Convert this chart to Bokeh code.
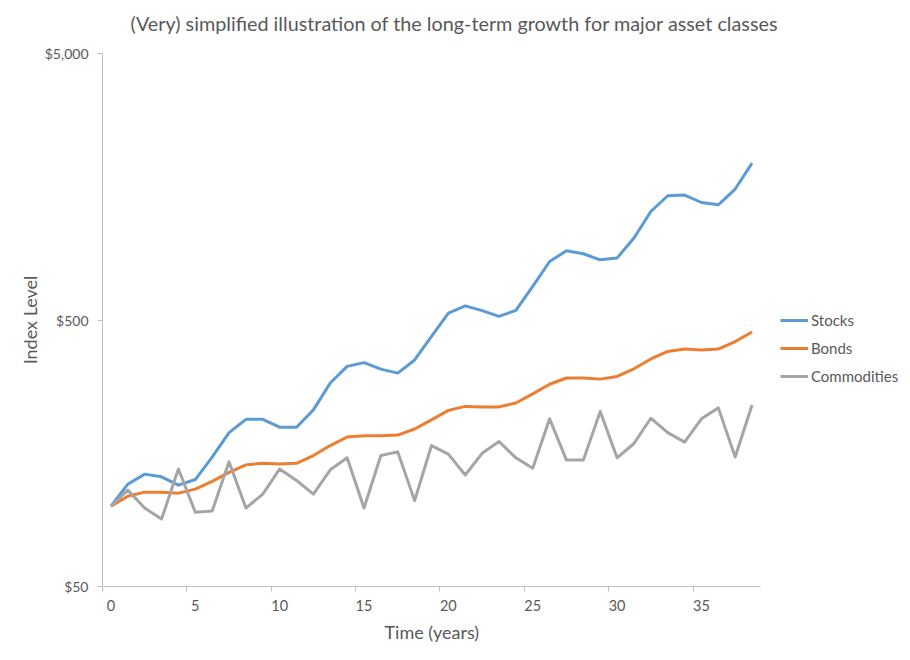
from bokeh.plotting import figure
from bokeh.models import (Range1d, FixedTicker, NumeralTickFormatter, Legend, LegendItem, Title)
from bokeh.embed import file_html
from bokeh.resources import INLINE

# ---- data ----
years = list(range(39))
stocks = [100, 121, 132, 129, 120, 126, 153, 189, 212, 212, 198, 198, 230, 290, 335,
          346, 327, 316, 354, 434, 531, 565, 542, 516, 543, 668, 829, 909, 886, 841,
          854, 1015, 1277, 1463, 1472, 1380, 1353, 1550, 1940]
bonds = [100, 109, 113, 113, 112, 116, 124, 134, 143, 145, 144, 145, 155, 169, 182,
         184, 184, 185, 195, 211, 229, 237, 236, 236, 244, 264, 287, 303, 303, 300,
         307, 328, 357, 381, 389, 386, 389, 415, 451]
commodities = [100, 115, 98.5, 89.5, 138, 95, 96, 147, 98.5, 111, 138, 125, 111, 137,
               152, 98.5, 155, 160, 105, 169, 157, 131, 158, 175, 152, 139, 213, 149,
               149, 227, 152, 172, 214, 189, 174, 213, 234, 153, 240]
series_names = ["Stocks", "Bonds", "Commodities"]
series_colors = ["#5B9BD5", "#ED7D31", "#A5A5A5"]
x_tick_values = [0, 5, 10, 15, 20, 25, 30, 35]
y_tick_values = [50, 500, 5000]

TXT = "#595959"
AX = "#BFBFBF"
FONT = "Lato"

W, H = 902, 652
LEFT, TOP, BOTTOM = 102, 53, 66
AXIS_PX = 658                     # pixel length of the category axis
x_start, x_end = -0.5, len(years) - 0.5
px_per_unit = AXIS_PX / (x_end - x_start)
x_view_end = x_start + (W - LEFT) / px_per_unit   # frame extends under the legend

p = figure(width=W, height=H, output_backend="svg", toolbar_location=None,
           y_axis_type="log",
           x_range=Range1d(x_start, x_view_end), y_range=Range1d(50, 5000),
           min_border_left=LEFT, min_border_right=0, min_border_top=TOP, min_border_bottom=BOTTOM)

# spacer between title and plot area (added before the main title -> nearer the frame)
p.add_layout(Title(text=" ", text_font_size="1px", standoff=8), "above")

p.title.text = "(Very) simplified illustration of the long-term growth for major asset classes"
p.title.align = "left"
p.title.offset = 28
p.title.text_font = FONT
p.title.text_font_size = "19.8px"
p.title.text_font_style = "normal"
p.title.text_color = TXT
p.title.standoff = 15

p.outline_line_color = None
p.xgrid.visible = False
p.ygrid.visible = False
p.background_fill_color = "white"
p.border_fill_color = "white"

renderers = []
for vals, c in zip([stocks, bonds, commodities], series_colors):
    r = p.line(years, vals, line_color=c, line_width=3, line_join="round")
    renderers.append(r)

# x axis
xa = p.xaxis[0]
xa.bounds = (x_start, x_end)
xa.ticker = FixedTicker(ticks=x_tick_values,
                        minor_ticks=[t - 0.5 for t in x_tick_values])
xa.major_tick_line_color = None
xa.major_tick_out = 5
xa.major_tick_in = 0
xa.minor_tick_line_color = AX
xa.minor_tick_out = 5
xa.minor_tick_in = 0
xa.axis_line_color = AX
xa.major_label_text_font = FONT
xa.major_label_text_font_size = "14.5px"
xa.major_label_text_color = TXT
xa.major_label_standoff = 8

# x axis title, centred under the category axis (not under the wider frame)
p.add_layout(Title(text="Time (years)", align="left", offset=282, standoff=11,
                   text_font=FONT, text_font_size="18px", text_font_style="normal",
                   text_color=TXT), "below")

# y axis
ya = p.yaxis[0]
ya.ticker = FixedTicker(ticks=y_tick_values, minor_ticks=[])
ya.formatter = NumeralTickFormatter(format="$0,0")
ya.major_tick_line_color = AX
ya.major_tick_out = 5
ya.major_tick_in = 0
ya.minor_tick_line_color = None
ya.axis_line_color = AX
ya.major_label_text_font = FONT
ya.major_label_text_font_size = "14px"
ya.major_label_text_color = TXT
ya.major_label_standoff = 9
ya.axis_label = "Index Level"
ya.axis_label_text_font = FONT
ya.axis_label_text_font_size = "18px"
ya.axis_label_text_font_style = "normal"
ya.axis_label_text_color = TXT
ya.axis_label_standoff = 1

legend = Legend(items=[LegendItem(label=n, renderers=[r]) for n, r in zip(series_names, renderers)],
                location=(678, 200), orientation="vertical",
                padding=0, margin=0, spacing=8, glyph_width=28, glyph_height=20,
                label_height=20, label_standoff=3,
                border_line_color=None, background_fill_alpha=0,
                label_text_font=FONT, label_text_font_size="15px", label_text_color=TXT)
p.add_layout(legend, "center")

open("out.html", "w").write(file_html(p, INLINE))
